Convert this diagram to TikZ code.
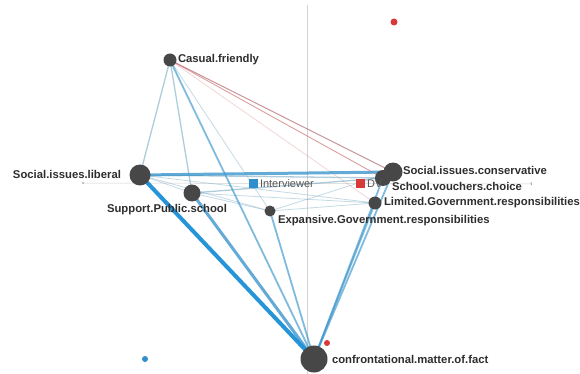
\documentclass[tikz,border=0pt]{standalone}
\usepackage{fontspec}
\setmainfont{Liberation Sans}
\begin{document}
\begin{tikzpicture}[x=1pt,y=-1pt,
  every node/.style={inner sep=0pt, outer sep=0pt},
  concept/.style={circle, fill=nodegray, draw=none},
  tag/.style={font=\fontsize{11.3}{13}\selectfont\bfseries, text=labelgray},
  legendtext/.style={font=\fontsize{11}{13}\selectfont, text=legendgray},
  axis/.style={draw=black!18, line width=0.5pt},
  strong/.style={draw=linkbright, line width=4pt, draw opacity=0.95},
  heavy/.style={draw=linkblue, line width=3pt, draw opacity=0.8},
  medium/.style={draw=linkblue, line width=1.8pt, draw opacity=0.65},
  light/.style={draw=linkgray, line width=1.3pt, draw opacity=0.55},
  faint/.style={draw=linkgray, line width=0.8pt, draw opacity=0.4},
  redlink/.style={draw=linkred, line width=0.9pt, draw opacity=0.65},
  redfaint/.style={draw=linkred, line width=0.7pt, draw opacity=0.3}]
\definecolor{nodegray}{HTML}{474747}
\definecolor{labelgray}{HTML}{2E2E2E}
\definecolor{legendgray}{HTML}{555555}
\definecolor{linkbright}{HTML}{1A8FD6}
\definecolor{linkblue}{HTML}{3C96CC}
\definecolor{linkgray}{HTML}{6FA3BF}
\definecolor{linkred}{HTML}{CC6A6A}
\definecolor{dvred}{HTML}{D83A3A}
\definecolor{ivblue}{HTML}{2E8FCC}

\useasboundingbox (0,0) rectangle (580,374);
\fill[white] (0,0) rectangle (580,374);

% axes through the origin of the map
\coordinate (ytop) at (307,5);
\coordinate (ybot) at (307,374);
\coordinate (xleft) at (83,183);
\coordinate (xright) at (531,184);
\draw[axis] (ytop) -- (ybot);
\draw[axis] (xleft) -- (xright);
\fill[black!45] (xleft) circle (0.9);
\draw[black!45, line width=0.6pt] (531,182) -- (531.5,185);

% concept positions
\coordinate (cas) at (170,60);
\coordinate (lib) at (140,175);
\coordinate (sps) at (192,193);
\coordinate (exp) at (270,211);
\coordinate (cons) at (393,172);
\coordinate (vou) at (383,178);
\coordinate (lim) at (375,203);
\coordinate (conf) at (314,359);

% links
\draw[redfaint] (cas) -- (lim);
\draw[faint] (cas) -- (cons);
\draw[faint] (cas) -- (exp);
\draw[faint] (lib) -- (lim);
\draw[faint] (lib) -- (exp);
\draw[faint] (sps) -- (lim);
\draw[faint] (sps) -- (exp);
\draw[faint] (exp) -- (cons);
\draw[faint] (exp) -- (lim);
\draw[faint] (lib) -- (sps);
\draw[light] (lib) -- (vou);
\draw[light] (sps) -- (vou);
\draw[light] (cas) -- (sps);
\draw[light] (cas) -- (lib);
\draw[redlink] (cas) -- (cons);
\draw[redlink] (cas) -- (vou);
\draw[medium] (cas) -- (conf);
\draw[medium] (exp) -- (conf);
\draw[medium] (lim) -- (conf);
\draw[medium] (vou) -- (conf);
\draw[medium] (cons) -- (conf);
\draw[heavy] (lib) -- (cons);
\draw[heavy] (sps) -- (conf);
\draw[strong] (lib) -- (conf);

% concept nodes
\node[concept, minimum size=13pt] (ncas) at (cas) {};
\node[concept, minimum size=21pt] (nlib) at (lib) {};
\node[concept, minimum size=17pt] (nsps) at (sps) {};
\node[concept, minimum size=11pt] (nexp) at (exp) {};
\node[concept, minimum size=16pt] (nvou) at (vou) {};
\node[concept, minimum size=19pt] (ncons) at (cons) {};
\node[concept, minimum size=13pt] (nlim) at (lim) {};
\node[concept, minimum size=27pt] (nconf) at (conf) {};

% group markers
\node[circle, fill=dvred, minimum size=7pt] (dvtop) at (394,22) {};
\node[circle, fill=dvred, minimum size=6pt] (dvconf) at (327,343) {};
\node[circle, fill=ivblue, minimum size=6pt] (ivdot) at (145,359) {};

% labels
\node[tag, anchor=west] (tcas) at (178,60) {Casual.friendly};
\node[tag, anchor=east] (tlib) at (121,174) {Social.issues.liberal};
\node[tag] (tsps) at (167,210) {Support.Public.school};
\node[tag, anchor=west] (texp) at (278,221) {Expansive.Government.responsibilities};
\node[tag, anchor=west] (tcons) at (403,170) {Social.issues.conservative};
\node[tag, anchor=west] (tvou) at (392,186) {School.vouchers.choice};
\node[tag, anchor=west] (tlim) at (384,203) {Limited.Government.responsibilities};
\node[tag, anchor=west] (tconf) at (332,359) {confrontational.matter.of.fact};

% legend
\node[fill=ivblue, minimum size=9pt] (kiv) at (253,183) {};
\node[legendtext, anchor=west] (liv) at (260,184) {Interviewer};
\node[fill=dvred, minimum size=9pt] (kdv) at (360,183) {};
\node[legendtext, anchor=west] (ldv) at (367,184) {DV};
\end{tikzpicture}
\end{document}
